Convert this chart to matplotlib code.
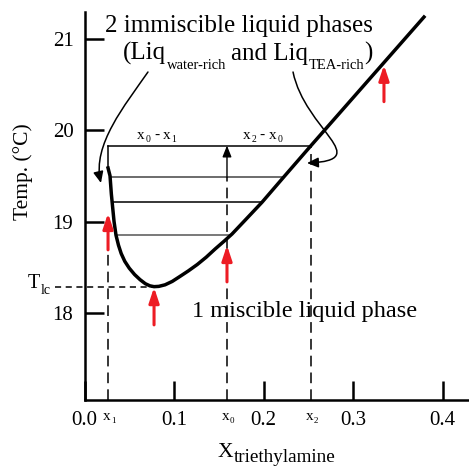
import matplotlib
matplotlib.use('Agg')
import matplotlib.pyplot as plt
from matplotlib.path import Path
from matplotlib.patches import FancyArrowPatch

plt.rcParams['font.family'] = 'serif'
plt.rcParams['font.serif'] = ['Liberation Serif']

W, H = 469, 470

# coexistence curve, water / triethylamine
curve_x = [0.0263, 0.0285, 0.0300, 0.0310, 0.0330, 0.0352, 0.0380, 0.0410, 0.0450, 0.0500,
           0.0560, 0.0620, 0.0680, 0.0730, 0.0777, 0.0830, 0.0900, 0.0980, 0.1067, 0.1160,
           0.1260, 0.1360, 0.1460, 0.1560, 0.1648, 0.1800, 0.1983, 0.2225, 0.2531, 0.3793]
curve_T = [19.585, 19.500, 19.300, 19.200, 19.000, 18.850, 18.740, 18.650, 18.565, 18.490,
           18.420, 18.365, 18.320, 18.297, 18.288, 18.291, 18.308, 18.345, 18.400, 18.460,
           18.530, 18.610, 18.700, 18.785, 18.863, 19.020, 19.210, 19.485, 19.830, 21.235]

x1, x0, x2 = 0.0263, 0.1592, 0.2531
T_top = 19.83
x_lc, T_lc = 0.0777, 18.288

tie_T = [19.49, 19.21, 18.85]
tie_left = [0.0285, 0.0310, 0.0352]
tie_right = [0.2220, 0.1983, 0.1640]
tie_colors = ['#444444', 'black', '#555555']

red_x = [x1, x_lc, x0, 0.3346]
red_tip = [19.09, 18.28, 18.74, 20.71]
red_tail = [18.69, 17.87, 18.34, 20.31]

xticks = [0.0, 0.1, 0.2, 0.3, 0.4]
yticks = [18, 19, 20, 21]
ylo, yhi = 17.049, 21.29
xhi = 0.4296

fig = plt.figure(figsize=(W / 100, H / 100), dpi=100)
ax = fig.add_axes([84.5 / W, 70 / H, 1 - 84.5 / W, 388 / H])
ax.set_xlim(0, xhi)
ax.set_ylim(ylo, yhi)
ax.spines[['top', 'right']].set_visible(False)
for s in ['left', 'bottom']:
    ax.spines[s].set_linewidth(1.8)
ax.set_xticks(xticks, [f'{v:.1f}' for v in xticks])
ax.set_yticks(yticks)
ax.tick_params(direction='in', length=13.7, width=1.8, labelsize=15, pad=8)

# curve and tie lines
ax.plot(curve_x, curve_T, color='black', lw=2.5, solid_joinstyle='round', zorder=4)
for T, a, b, c in zip(tie_T, tie_left, tie_right, tie_colors):
    ax.plot([a, b], [T, T], color=c, lw=1.1)
ax.plot([x1, x2], [T_top, T_top], color='black', lw=1.1)
ax.plot([x1, x1], [T_top, curve_T[0]], color='black', lw=1.1)

# dashed guides
dash = (0, (7, 4))
ax.plot([x1, x1], [ylo, 18.69], color='black', lw=1.1, ls=dash)
ax.plot([x0, x0], [ylo, tie_T[0]], color='black', lw=1.1, ls=dash)
ax.plot([x2, x2], [ylo, T_top], color='black', lw=1.1, ls=dash)
ax.plot([-0.033, x_lc], [T_lc, T_lc], color='black', lw=1.1, ls=(0, (4, 3)), clip_on=False)

# lever arrow
ax.annotate('', xy=(x0, T_top), xytext=(x0, tie_T[0]),
            arrowprops=dict(arrowstyle='-|>,head_length=0.45,head_width=0.18', color='black',
                            lw=1.0, mutation_scale=15, shrinkA=0, shrinkB=0))

# red arrows
for x, a, b in zip(red_x, red_tail, red_tip):
    ax.annotate('', xy=(x, b), xytext=(x, a),
                arrowprops=dict(arrowstyle='-|>,head_length=0.45,head_width=0.15', color='#ed1c24',
                                lw=2.2, mutation_scale=20, shrinkA=0, shrinkB=0), zorder=5)

# curved pointers from the label
C = [Path.MOVETO, Path.CURVE4, Path.CURVE4, Path.CURVE4]
left_path = Path([(0.0709, 20.634), (0.0453, 20.273), (0.0084, 19.836), (0.0184, 19.421)], C)
right_path = Path([(0.2330, 20.634), (0.2464, 20.00), (0.3246, 19.672), (0.2486, 19.639)], C)
for p in [left_path, right_path]:
    ax.add_patch(FancyArrowPatch(path=p, arrowstyle='-|>,head_length=0.45,head_width=0.2',
                                 mutation_scale=15, lw=1.1, color='black'))

r = fig.canvas.get_renderer()


def rich(x, y, parts):
    # parts: (text, size, drop, gap) laid out left to right, x/y in pixels from top-left
    for s, size, drop, gap in parts:
        x += gap
        t = fig.text(x / W, 1 - (y + drop) / H, s, fontsize=size, ha='left', va='baseline')
        x += t.get_window_extent(r).width
    return x


fig.text(105 / W, 1 - 32 / H, '2 immiscible liquid phases', fontsize=18, va='baseline')
rich(123, 60, [('(Liq', 18, 0, 0), ('water-rich', 10.5, 9, 0.5), ('and Liq', 18, 0, 5),
               ('TEA-rich', 10.5, 9, 0.5), (')', 18, 0, 0)])
fig.text(192 / W, 1 - 317 / H, '1 miscible liquid phase', fontsize=17.5, va='baseline')
rich(28, 288, [('T', 14.5, 0, 0), ('lc', 10, 6, 0)])
rich(218, 457, [('X', 15.5, 0, 0), ('triethylamine', 13.8, 5, 0)])
fig.text(23 / W, 1 - 172 / H, 'Temp. (°C)', rotation=90, ha='center', va='center', fontsize=15.5)

# composition labels on the axis
for x, sub in [(x1, '1'), (x0, '0'), (x2, '2')]:
    px = 84.5 + x * 895
    rich(px - 5, 420, [('x', 11, 0, 0), (sub, 6.5, 3, 0.5)])

rich(137, 139, [('x', 11, 0, 0), ('0', 7, 3, 0.5), ('-', 11, 0, 4), ('x', 11, 0, 4), ('1', 7, 3, 0.5)])
rich(243, 139, [('x', 11, 0, 0), ('2', 7, 3, 0.5), ('-', 11, 0, 4), ('x', 11, 0, 4), ('0', 7, 3, 0.5)])

fig.savefig('out.png', dpi=100)
